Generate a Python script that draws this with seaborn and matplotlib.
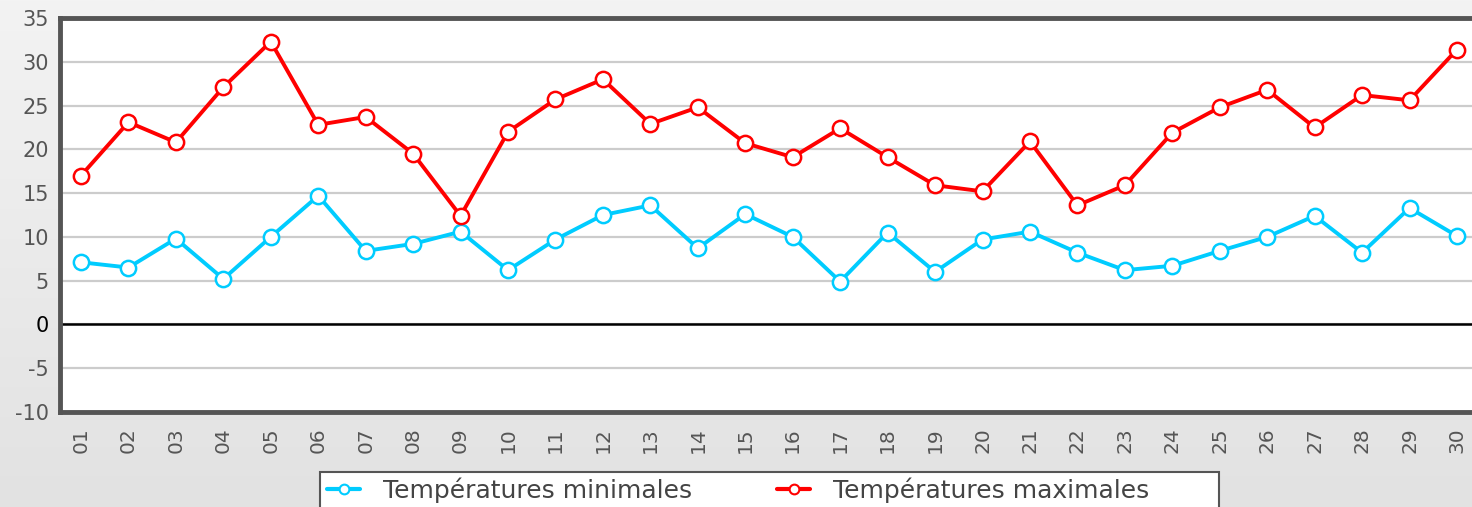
import numpy as np
import pandas as pd
import matplotlib
matplotlib.use("Agg")
import matplotlib.pyplot as plt
from matplotlib.colors import LinearSegmentedColormap
from matplotlib.patches import Rectangle
from matplotlib.lines import Line2D
import seaborn as sns

# ---- data ----
days = [f"{d:02d}" for d in range(1, 31)]
t_min = [7.1, 6.5, 9.8, 5.2, 10.0, 14.7, 8.4, 9.2, 10.6, 6.2,
         9.7, 12.5, 13.6, 8.7, 12.6, 10.0, 4.9, 10.5, 6.0, 9.7,
         10.6, 8.2, 6.2, 6.7, 8.4, 10.0, 12.4, 8.2, 13.3, 10.1]
t_max = [17.0, 23.1, 20.8, 27.1, 32.3, 22.8, 23.7, 19.5, 12.4, 22.0,
         25.7, 28.0, 22.9, 24.8, 20.7, 19.1, 22.4, 19.1, 15.9, 15.2,
         20.9, 13.6, 15.9, 21.9, 24.8, 26.8, 22.5, 26.2, 25.6, 31.4]
y_ticks = [-10, -5, 0, 5, 10, 15, 20, 25, 30, 35]
series_names = ["Températures minimales", "Températures maximales"]
colors = ["#00CCFF", "#FF0000"]

sns.set_style("white")
plt.rcParams["font.family"] = ["DejaVu Sans"]

W, H = 1472, 507
fig = plt.figure(figsize=(W / 100, H / 100), dpi=100)

# background gradient
bg = fig.add_axes([0, 0, 1, 1], zorder=-10)
grad = np.linspace(0, 1, 256).reshape(-1, 1)
cmap = LinearSegmentedColormap.from_list("g", ["#f3f3f3", "#e2e2e2"])
bg.imshow(grad, aspect="auto", cmap=cmap, extent=[0, 1, 0, 1])
bg.axis("off")

ax = fig.add_axes([60 / W, 95 / H, 1418 / W, 394 / H])
ax.set_facecolor("white")

df = pd.DataFrame({"x": np.arange(len(days)), "min": t_min, "max": t_max})
for col, name, c in zip(["min", "max"], series_names, colors):
    sns.lineplot(data=df, x="x", y=col, ax=ax, color=c, lw=2.8,
                 marker="o", ms=11, mfc="white", mec=c, mew=1.8,
                 label=name, zorder=5, legend=False)

ax.set_ylim(-10, 35)
ax.set_xlim(-0.4425, len(days) - 1 + 0.4425)
ax.set_yticks(y_ticks)
ax.set_yticklabels([str(v) for v in y_ticks])
ax.set_xticks(np.arange(len(days)))
ax.set_xticklabels(days, rotation=90)
ax.set_xlabel("")
ax.set_ylabel("")
ax.yaxis.grid(True, color="#cccccc", lw=1.6, zorder=0)
ax.xaxis.grid(False)
ax.axhline(0, color="black", lw=1.8, zorder=2)
ax.tick_params(axis="both", length=0, labelcolor="#555555")
ax.tick_params(axis="y", pad=8, labelsize=15)
ax.tick_params(axis="x", pad=11, labelsize=14.5)
for lbl in ax.get_yticklabels():
    if lbl.get_text() == "0":
        lbl.set_color("black")
for s in ["left", "top", "bottom"]:
    ax.spines[s].set_color("#555555")
    ax.spines[s].set_linewidth(3.5)
ax.spines["right"].set_visible(False)

# legend box
fig.patches.append(Rectangle((320 / W, -0.05), 899 / W, 35 / H + 0.05,
                             transform=fig.transFigure, facecolor="white",
                             edgecolor="#555555", lw=1.5, zorder=1))
handles = [Line2D([], [], color=c, lw=3, marker="o", ms=7, mfc="white",
                  mec=c, mew=1.5) for c in colors]
leg = fig.legend(handles, series_names, loc="center left",
                 bbox_to_anchor=(327 / W, 17 / H), ncol=2, frameon=False,
                 borderpad=0, borderaxespad=0,
                 fontsize=18, handlelength=1.32, handletextpad=0.92,
                 columnspacing=3.4, labelcolor="#444444")
leg.set_zorder(3)

fig.savefig("out.png", dpi=100)
